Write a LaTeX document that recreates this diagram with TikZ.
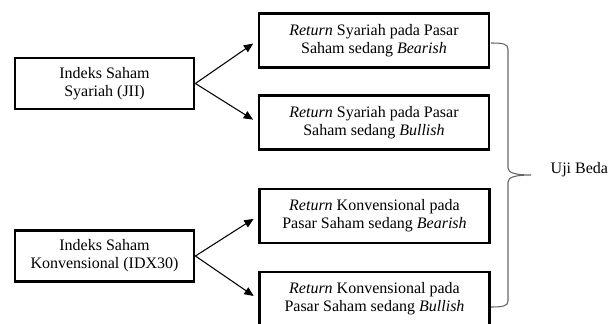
\documentclass[tikz,border=0pt]{standalone}
\usepackage{fontspec}
\setmainfont{Liberation Serif}
\usepackage{tikz}
\usetikzlibrary{arrows.meta}

\begin{document}
\begin{tikzpicture}[x=0.75pt,y=-0.75pt]
            \tikzstyle{indeks}=[rectangle, minimum width=179*0.75pt, minimum height=51*0.75pt, inner sep=0pt, line width=2.1pt, draw=black, align=center, font=\fontsize{12}{13.5}\selectfont]
            \tikzstyle{hasil}=[rectangle, minimum width=230*0.75pt, minimum height=54*0.75pt, inner sep=0pt, line width=2.1pt, draw=black, align=center, font=\fontsize{12}{13.5}\selectfont]
            \tikzstyle{connect}=[line width=0.8pt, -{Triangle[length=7pt,width=6pt]}, shorten >=4pt]
            \useasboundingbox (0,0) rectangle (608,324);
            {\node[indeks] (jii) at (104.5,83.5){Indeks Saham\\Syariah (JII)};
            \node[indeks] (idx) at (104.5,256){Indeks Saham\\Konvensional (IDX30)};
            \node[hasil] (sbear) at (374,40.5){\textit{Return} Syariah pada Pasar\\Saham sedang \textit{Bearish}};
            \node[hasil] (sbull) at (374,122.5){\textit{Return} Syariah pada Pasar\\Saham sedang \textit{Bullish}};
            \node[hasil] (kbear) at (374.5,216){\textit{Return} Konvensional pada\\Pasar Saham sedang \textit{Bearish}};
            \node[hasil] (kbull) at (374.5,299){\textit{Return} Konvensional pada\\Pasar Saham sedang \textit{Bullish}};
            \node[anchor=west, font=\fontsize{12}{13.5}\selectfont] (uji) at (546,170){Uji Beda};}
            \path (jii.east) edge [connect] (sbear.west);
            \path (jii.east) edge [connect] (sbull.west);
            \path (idx.east) edge [connect] (kbear.west);
            \path (idx.east) edge [connect] (kbull.west);
            % kurung kurawal
            \draw[gray!80!black, line width=0.8pt] (491,43) .. controls (503,43) and (508,44) .. (508,49)
                -- (508,168) .. controls (508,173) and (516,175) .. (531,175)
                .. controls (516,175) and (508,177) .. (508,182)
                -- (508,301) .. controls (508,306) and (503,307) .. (491,307);
        \end{tikzpicture}
\end{document}
